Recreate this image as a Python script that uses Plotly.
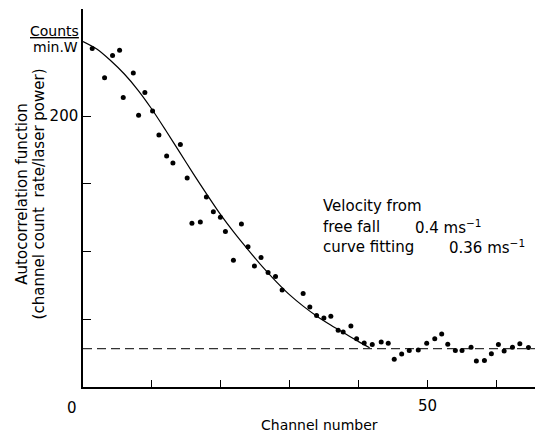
import plotly.graph_objects as go

# ---- data ----
channel = [1.34, 3.13, 4.29, 5.31, 5.84, 7.30, 8.07, 8.98, 10.10, 11.02, 12.14, 13.05, 14.13,
           15.12, 15.81, 17.03, 17.91, 18.92, 19.94, 20.67, 21.83, 22.99, 23.95, 24.88, 25.84,
           26.86, 27.94, 28.90, 31.95, 32.92, 33.90, 34.96, 35.97, 37.03, 37.76, 38.88, 39.71,
           40.81, 41.98, 43.28, 44.30, 45.17, 46.25, 47.35, 48.66, 49.88, 51.05, 52.06, 52.94,
           54.04, 55.01, 56.32, 57.09, 58.26, 59.27, 60.29, 61.12, 62.33, 63.40, 64.65]
counts = [249.9, 228.3, 244.6, 248.5, 213.6, 231.7, 200.5, 217.3, 203.7, 186.0, 170.5, 165.3, 178.9,
          154.2, 120.8, 121.8, 140.2, 129.4, 125.2, 114.7, 93.5, 120.3, 103.6, 89.3, 95.5,
          84.6, 81.5, 71.6, 69.0, 59.0, 52.7, 50.9, 52.2, 41.8, 40.6, 45.0, 35.7,
          32.5, 31.3, 33.2, 32.3, 20.4, 24.4, 26.9, 27.3, 32.3, 35.7, 39.1, 31.5,
          26.9, 26.9, 29.3, 19.2, 19.5, 24.6, 31.3, 26.6, 29.3, 32.0, 29.1]

fit_channel = [0, 2, 4, 6, 8, 10, 12, 14, 16, 18, 20, 22, 24, 26, 28, 30, 32, 34, 36, 38, 40, 41.6]
fit_counts = [255, 249.5, 241, 231, 219, 205, 189.5, 173.5, 157.5, 142, 127, 113.5, 101, 89, 78, 68,
              59.5, 52, 45.5, 39.5, 33.5, 29]

baseline_level = 28.3
x_limits = [0, 65.6]
y_limits = [0, 279]
x_major_ticks = [50]
x_minor_ticks = [10, 20, 30, 40, 60]
y_major_ticks = [200]
y_minor_ticks = [50, 100, 150]

FONT = "DejaVu Sans"

fig = go.Figure()

fig.add_trace(go.Scatter(x=x_limits, y=[baseline_level, baseline_level], mode="lines",
                         line=dict(color="#333333", width=1.2, dash="9px,5px"),
                         hoverinfo="skip", showlegend=False))
fig.add_trace(go.Scatter(x=fit_channel, y=fit_counts, mode="lines",
                         line=dict(color="black", width=1.2, shape="spline", smoothing=0.7),
                         showlegend=False))
fig.add_trace(go.Scatter(x=channel, y=counts, mode="markers",
                         marker=dict(color="black", size=5),
                         showlegend=False))

fig.update_layout(
    width=542, height=432,
    margin=dict(l=83, r=7, t=9, b=45),
    paper_bgcolor="white", plot_bgcolor="white",
    font=dict(family=FONT, size=15, color="black"),
    xaxis=dict(range=x_limits, showgrid=False, zeroline=False, showline=True,
               linecolor="black", linewidth=1.5, ticks="inside", ticklen=7,
               tickcolor="black", tickwidth=1, tickvals=x_major_ticks,
               ticklabelstandoff=4, tickfont=dict(size=15),
               minor=dict(tickvals=x_minor_ticks, ticks="inside", ticklen=7,
                          tickcolor="black", tickwidth=1, showgrid=False)),
    yaxis=dict(range=y_limits, showgrid=False, zeroline=False, showline=True,
               linecolor="black", linewidth=1.5, ticks="inside", ticklen=8,
               tickcolor="black", tickwidth=1, tickvals=y_major_ticks,
               tickfont=dict(size=15),
               minor=dict(tickvals=y_minor_ticks, ticks="inside", ticklen=8,
                          tickcolor="black", tickwidth=1, showgrid=False)),
)

ann = [
    dict(x=0, y=0, xref="x", yref="y", text="0", showarrow=False,
         xanchor="center", yanchor="top", xshift=-11, yshift=-10, font=dict(size=15)),
    dict(x=0.524, y=-0.1, xref="paper", yref="paper", text="Channel number", showarrow=False,
         xanchor="center", yanchor="middle", font=dict(size=14)),
    dict(x=0, y=262.5, xref="paper", yref="y", text="<u>Counts</u>", showarrow=False,
         xanchor="right", yanchor="middle", xshift=-2, font=dict(size=14)),
    dict(x=0, y=251.0, xref="paper", yref="y", text="min.W", showarrow=False,
         xanchor="right", yanchor="middle", xshift=-3, font=dict(size=14)),
    dict(x=-0.134, y=0.51, xref="paper", yref="paper", text="Autocorrelation function",
         showarrow=False, textangle=-90, xanchor="center", yanchor="middle", font=dict(size=15)),
    dict(x=-0.097, y=0.51, xref="paper", yref="paper", text="(channel count  rate/laser power)",
         showarrow=False, textangle=-90, xanchor="center", yanchor="middle", font=dict(size=15)),
    dict(x=34.6, y=133.6, xref="x", yref="y", text="Velocity from", showarrow=False,
         xanchor="left", yanchor="middle", font=dict(size=15)),
    dict(x=34.6, y=118.1, xref="x", yref="y", text="free fall", showarrow=False,
         xanchor="left", yanchor="middle", font=dict(size=15)),
    dict(x=47.9, y=118.1, xref="x", yref="y", text="0.4 ms<sup>\u22121</sup>", showarrow=False,
         xanchor="left", yanchor="middle", font=dict(size=15)),
    dict(x=34.6, y=103.0, xref="x", yref="y", text="curve fitting", showarrow=False,
         xanchor="left", yanchor="middle", font=dict(size=15)),
    dict(x=52.8, y=103.0, xref="x", yref="y", text="0.36 ms<sup>\u22121</sup>", showarrow=False,
         xanchor="left", yanchor="middle", font=dict(size=15)),
]
fig.update_layout(annotations=ann)

fig.write_html("out.html")
